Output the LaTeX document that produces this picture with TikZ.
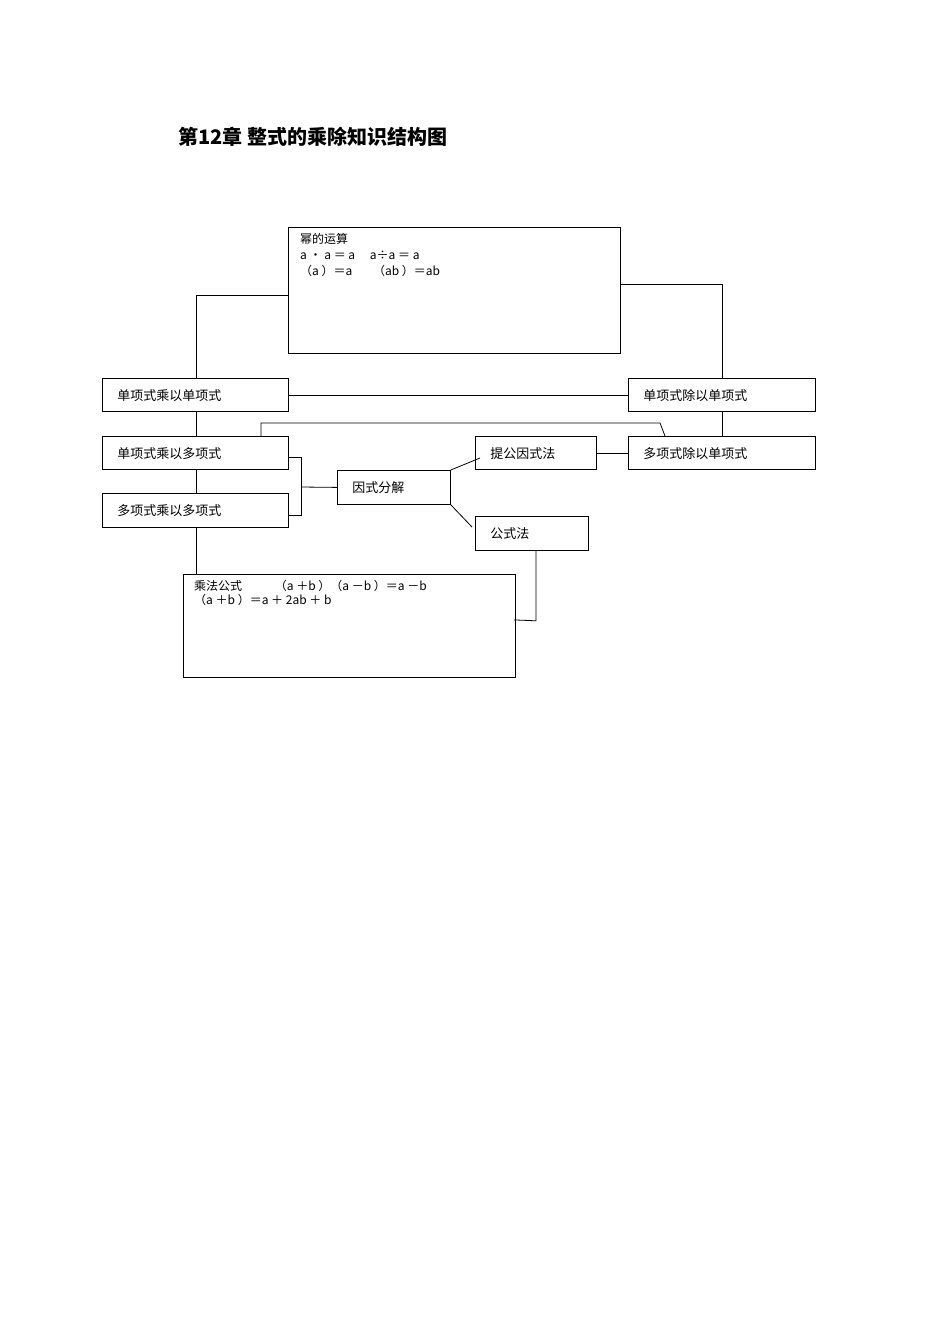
\documentclass[tikz,border=0pt]{standalone}
\usepackage{fontspec}
\setmainfont{Liberation Serif}
\newfontfamily\cjk{Noto Sans CJK SC}
\usetikzlibrary{positioning,calc}
\tikzstyle{box}=[rectangle,draw,thick,anchor=north west,inner sep=0pt,font=\cjk\fontsize{13}{15}\selectfont,text depth=0pt]
\tikzstyle{txt}=[anchor=north west,inner sep=0pt,align=left,font=\cjk\fontsize{12}{16}\selectfont]
\tikzstyle{link}=[thick]

\begin{document}
\begin{tikzpicture}[x=1pt,y=-1pt]
    \useasboundingbox (0,0) rectangle (950,1344);
    \node[anchor=west,inner sep=0pt,font=\cjk\bfseries\fontsize{20}{24}\selectfont] (title) at (178,137) {第12章 整式的乘除知识结构图};

    \node[box,minimum width=332pt,minimum height=126pt] (power) at (288,227) {};
    \node[txt] (powertxt) at (300,233) {幂的运算\\a • a ＝ a \quad a÷a ＝ a\\（a ）＝a \quad\enspace（ab ）＝ab};
    \node[box,minimum width=186pt,minimum height=33pt,text width=176pt,align=left] (m1) at (102,378) {\hspace*{10pt}单项式乘以单项式};
    \node[box,minimum width=187pt,minimum height=33pt,text width=177pt,align=left] (d1) at (628,378) {\hspace*{10pt}单项式除以单项式};
    \node[box,minimum width=186pt,minimum height=33pt,text width=176pt,align=left] (m2) at (102,436) {\hspace*{10pt}单项式乘以多项式};
    \node[box,minimum width=187pt,minimum height=33pt,text width=177pt,align=left] (d2) at (628,436) {\hspace*{10pt}多项式除以单项式};
    \node[box,minimum width=186pt,minimum height=34pt,text width=176pt,align=left] (m3) at (102,493) {\hspace*{10pt}多项式乘以多项式};
    \node[box,minimum width=113pt,minimum height=34pt,text width=103pt,align=left] (fac) at (337,470) {\hspace*{10pt}因式分解};
    \node[box,minimum width=121pt,minimum height=33pt,text width=111pt,align=left] (tg) at (475,436) {\hspace*{10pt}提公因式法};
    \node[box,minimum width=113pt,minimum height=34pt,text width=103pt,align=left] (gs) at (475,516) {\hspace*{10pt}公式法};
    \node[box,minimum width=332pt,minimum height=103pt] (mul) at (183,574) {};
    \node[txt,font=\cjk\fontsize{12}{14}\selectfont] (multxt) at (194,580) {乘法公式 \qquad\enspace（a ＋b ）（a －b ）＝a －b\\（a ＋b ）＝a ＋ 2ab ＋ b};

    \coordinate (lp) at (196,295);
    \coordinate (rp) at (722,284);
    \draw[link] (power.west |- lp) -- (lp) -- (lp |- m1.north);
    \draw[link] (lp |- m1.south) -- (lp |- m2.north);
    \draw[link] (lp |- m2.south) -- (lp |- m3.north);
    \draw[link] (lp |- m3.south) -- (lp |- mul.north);
    \draw[link] (power.east |- rp) -- (rp) -- (rp |- d1.north);
    \draw[link] (rp |- d1.south) -- (rp |- d2.north);
    \draw[link] (m1.east) -- (d1.west);
    \draw[link] (m2.north west) ++(159,0) -- ++(0,-13) -- (660,423) -- ($(d2.north west)+(37,0)$);
    \draw[link] ($(m2.east)+(0,4)$) -- ++(13,0) |- ($(m3.east)+(0,5)$);
    \draw[link] (301,487) -- (fac.west);
    \draw[link] (fac.north east) -- ($(tg.north west)+(5,22)$);
    \draw[link] (fac.south east) -- ($(gs.north west)+(-3,11)$);
    \draw[link] (tg.east) -- (d2.west);
    \draw[link] ($(gs.south west)+(61,0)$) -- ++(0,70) -- ($(mul.east)+(-2,-6)$);
\end{tikzpicture}
\end{document}
